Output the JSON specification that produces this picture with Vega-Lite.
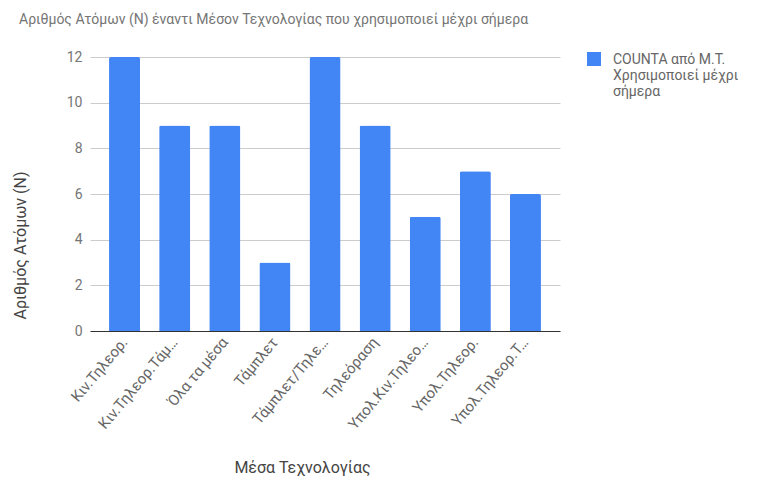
{
  "$schema": "https://vega.github.io/schema/vega-lite/v6.json",
  "autosize": "none",
  "width": 470,
  "height": 274,
  "padding": {"left": 90, "top": 57, "right": 203, "bottom": 146},
  "background": "white",
  "title": {
    "text": "Αριθμός Ατόμων (Ν) έναντι Μέσον Τεχνολογίας που χρησιμοποιεί μέχρι σήμερα",
    "anchor": "start",
    "frame": "group",
    "font": "Roboto",
    "fontSize": 14,
    "fontWeight": "normal",
    "color": "#757575",
    "dx": -71,
    "offset": 23
  },
  "data": {
    "values": [
      {"medium": "Κιν.Τηλεορ.", "count": 12, "series": "COUNTA από Μ.Τ.|Χρησιμοποιεί μέχρι|σήμερα"},
      {"medium": "Κιν.Τηλεορ.Τάμ…", "count": 9, "series": "COUNTA από Μ.Τ.|Χρησιμοποιεί μέχρι|σήμερα"},
      {"medium": "Όλα τα μέσα", "count": 9, "series": "COUNTA από Μ.Τ.|Χρησιμοποιεί μέχρι|σήμερα"},
      {"medium": "Τάμπλετ", "count": 3, "series": "COUNTA από Μ.Τ.|Χρησιμοποιεί μέχρι|σήμερα"},
      {"medium": "Τάμπλετ/Τηλε…", "count": 12, "series": "COUNTA από Μ.Τ.|Χρησιμοποιεί μέχρι|σήμερα"},
      {"medium": "Τηλεόραση", "count": 9, "series": "COUNTA από Μ.Τ.|Χρησιμοποιεί μέχρι|σήμερα"},
      {"medium": "Υπολ.Κιν.Τηλεο…", "count": 5, "series": "COUNTA από Μ.Τ.|Χρησιμοποιεί μέχρι|σήμερα"},
      {"medium": "Υπολ.Τηλεορ.", "count": 7, "series": "COUNTA από Μ.Τ.|Χρησιμοποιεί μέχρι|σήμερα"},
      {"medium": "Υπολ.Τηλεορ.Τ…", "count": 6, "series": "COUNTA από Μ.Τ.|Χρησιμοποιεί μέχρι|σήμερα"}
    ]
  },
  "mark": {"type": "bar", "cornerRadiusEnd": 2},
  "encoding": {
    "x": {
      "field": "medium",
      "type": "nominal",
      "sort": null,
      "scale": {"paddingInner": 0.38, "paddingOuter": 0.38},
      "axis": {
        "title": "Μέσα Τεχνολογίας",
        "titleX": 212,
        "titleY": 136,
        "titleAlign": "center",
        "titleBaseline": "middle",
        "titleFont": "Roboto",
        "titleFontSize": 16,
        "titleFontWeight": "normal",
        "titleColor": "#444444",
        "labelAngle": -50,
        "labelAlign": "right",
        "labelBaseline": "middle",
        "labelPadding": 8,
        "labelFont": "Roboto",
        "labelFontSize": 15,
        "labelColor": "#666666",
        "labelLimit": 200,
        "ticks": false,
        "domain": true,
        "domainColor": "#333333",
        "domainWidth": 1
      }
    },
    "y": {
      "field": "count",
      "type": "quantitative",
      "scale": {"domain": [0, 12]},
      "axis": {
        "title": "Αριθμός Ατόμων (Ν)",
        "titleX": -70,
        "titleY": 188,
        "titleAngle": 270,
        "titleAlign": "center",
        "titleBaseline": "middle",
        "titleFont": "Roboto",
        "titleFontSize": 16,
        "titleFontWeight": "normal",
        "titleColor": "#444444",
        "values": [0, 2, 4, 6, 8, 10, 12],
        "labelFont": "Roboto",
        "labelFontSize": 14,
        "labelColor": "#757575",
        "labelPadding": 8,
        "ticks": false,
        "domain": false,
        "grid": true,
        "gridColor": "#cccccc",
        "gridWidth": 1
      }
    },
    "color": {
      "field": "series",
      "type": "nominal",
      "scale": {"range": ["#4285F4"]},
      "legend": {
        "title": null,
        "orient": "none",
        "legendX": 497,
        "legendY": -5,
        "symbolType": "square",
        "symbolSize": 196,
        "symbolStrokeWidth": 0,
        "labelFont": "Roboto",
        "labelFontSize": 14,
        "labelColor": "#666666",
        "labelOffset": 12,
        "labelBaseline": "alphabetic",
        "labelLimit": 200,
        "labelExpr": "split(datum.label, '|')",
        "encode": {"labels": {"update": {"dy": {"value": 5}}}}
      }
    }
  },
  "config": {
    "view": {"stroke": null},
    "style": {"guide-label": {"lineHeight": 16}}
  }
}
